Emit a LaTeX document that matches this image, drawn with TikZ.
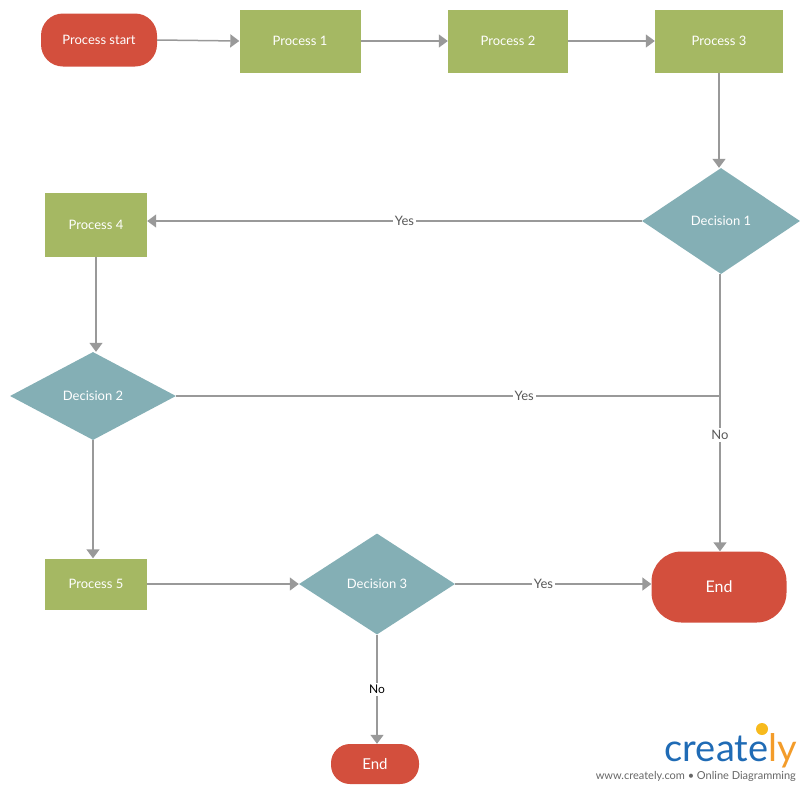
\documentclass[tikz,border=0pt]{standalone}
\usepackage{fontspec}
\setmainfont{Lato}
\usetikzlibrary{shapes.geometric,arrows.meta}
\definecolor{cred}{HTML}{D34F3D}
\definecolor{cgreen}{HTML}{A5B863}
\definecolor{cteal}{HTML}{84AFB5}
\definecolor{cline}{HTML}{999999}
\definecolor{cblue}{HTML}{1F6BB5}
\definecolor{corange}{HTML}{F39C2A}
\begin{document}
\begin{tikzpicture}[x=1pt,y=-1pt,
  every node/.style={font=\fontsize{13}{15}\selectfont},
  proc/.style={fill=cgreen,text=white,minimum width=#1,inner sep=0pt},
  term/.style={fill=cred,text=white,rounded corners=22pt,inner sep=0pt},
  dec/.style={diamond,fill=cteal,text=white,inner sep=0pt,aspect=1.5},
  conn/.style={draw=cline,line width=1.5pt},
  arr/.style={conn,-{Triangle[length=9pt,width=13pt]}},
  lab/.style={fill=white,text=black!65,inner sep=2pt}]
\useasboundingbox (0,0) rectangle (810,793);
\node[term,minimum width=116pt,minimum height=53pt] (ps) at (99,40) {Process start};
\node[proc=121pt,minimum height=63pt] (p1) at (300,41) {Process 1};
\node[proc=120pt,minimum height=63pt] (p2) at (508,41) {Process 2};
\node[proc=128pt,minimum height=63pt] (p3) at (719,41) {Process 3};
\node[dec,minimum width=158pt,minimum height=106pt] (d1) at (721,221) {Decision 1};
\node[proc=102pt,minimum height=64pt] (p4) at (96,225) {Process 4};
\node[dec,minimum width=166pt,minimum height=88pt] (d2) at (93,396) {Decision 2};
\node[proc=102pt,minimum height=51pt] (p5) at (96,584) {Process 5};
\node[dec,minimum width=156pt,minimum height=101pt] (d3) at (377,584) {Decision 3};
\node[term,minimum width=135pt,minimum height=71pt,rounded corners=30pt,font=\fontsize{16}{18}\selectfont] (e1) at (719,587) {End};
\node[term,minimum width=88pt,minimum height=40pt,rounded corners=19pt,font=\fontsize{15}{17}\selectfont] (e2) at (375,764) {End};
\coordinate (j) at (720,396);
\draw[arr] (ps.east) -- (p1.west);
\draw[arr] (p1) -- (p2);
\draw[arr] (p2) -- (p3);
\draw[arr] (p3.south) -- (p3.south |- d1.north);
\draw[arr] (d1.west) -- node[lab,pos=0.48]{Yes} (d1.west -| p4.east);
\draw[arr] (p4.south) -- (p4.south |- d2.north);
\draw[conn] (d2.east) -- node[lab,pos=0.64]{Yes} (j);
\draw[arr] (j |- d1.south) -- node[lab,pos=0.58]{No} (j |- e1.north);
\draw[arr] (d2.south) -- (d2.south |- p5.north);
\draw[arr] (p5.east) -- (d3.west);
\draw[arr] (d3.east) -- node[lab,pos=0.45]{Yes} (d3.east -| e1.west);
\draw[arr] (d3.south) -- node[lab,text=black,font=\fontsize{12}{14}\selectfont]{No} (d3.south |- e2.north);
\node[inner sep=0pt,anchor=south east,font=\fontsize{38}{38}\selectfont] (logo) at (797,768) {\textcolor{cblue}{create}\textcolor{corange}{ly}};
\fill[corange!70!yellow] (762,729) circle (6pt);
\node[inner sep=0pt,anchor=east,text=black!60,font=\fontsize{11}{13}\selectfont] (tag) at (796,776) {www.creately.com • Online Diagramming};
\end{tikzpicture}
\end{document}
